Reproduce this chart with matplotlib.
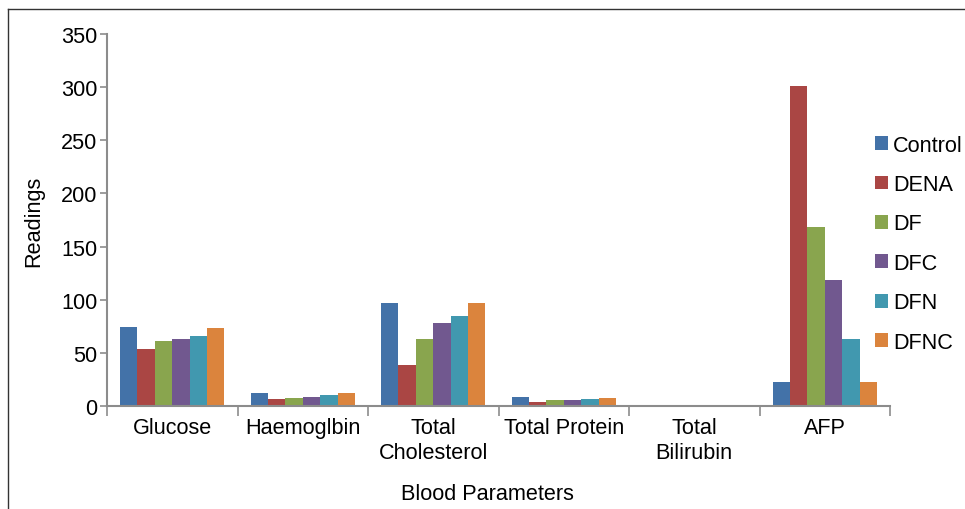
import matplotlib
matplotlib.use("Agg")
import matplotlib.pyplot as plt
from matplotlib.lines import Line2D
from matplotlib.patches import Patch
import numpy as np

plt.rcParams['font.family'] = ['Liberation Sans', 'DejaVu Sans']

categories = ["Glucose", "Haemoglbin", "Total\nCholesterol", "Total Protein", "Total\nBilirubin", "AFP"]
series = ["Control", "DENA", "DF", "DFC", "DFN", "DFNC"]
control = [74.5, 12.2, 96.5, 8.5, 0.6, 22.6]
dena    = [53.6, 6.6, 38.6, 3.8, 1.4, 301.0]
df      = [61.0, 7.5, 63.0, 5.6, 0.5, 168.5]
dfc     = [63.0, 8.5, 78.0, 5.6, 0.5, 118.5]
dfn     = [66.0, 10.3, 84.7, 6.6, 0.5, 63.0]
dfnc    = [73.5, 12.2, 96.5, 7.5, 0.6, 22.6]
values = [control, dena, df, dfc, dfn, dfnc]
colors = ["#4372A8", "#AA4644", "#89A54E", "#71588F", "#4198AF", "#DB843D"]
yticks = [0, 50, 100, 150, 200, 250, 300, 350]

FS = 15.6

fig = plt.figure(figsize=(9.65, 5.10), dpi=100)
ax = fig.add_axes([107/965, 1-407/510, (890-107)/965, (407-35)/510])

n = len(series)
group_w = 0.8
bw = group_w / n
x = np.arange(len(categories))
for i, (name, vals, c) in enumerate(zip(series, values, colors)):
    ax.bar(x - group_w/2 + bw*(i+0.5), vals, width=bw, color=c, label=name, linewidth=0)

ax.set_xlim(-0.5, len(categories)-0.5)
ax.set_ylim(0, 350)
ax.set_yticks(yticks)
ax.set_xticks(x)
ax.set_xticklabels(categories, fontsize=FS, linespacing=1.25)
ax.set_xticks(np.arange(len(categories)+1) - 0.5, minor=True)
ax.tick_params(axis='x', which='major', length=0, pad=8)
ax.tick_params(axis='x', which='minor', length=7, color='#8c8c8c', width=1.2)
ax.tick_params(axis='y', length=5, color='#8c8c8c', width=1.2, labelsize=FS, pad=2)
for s in ['top', 'right']:
    ax.spines[s].set_visible(False)
for s in ['left', 'bottom']:
    ax.spines[s].set_color('#8c8c8c')
    ax.spines[s].set_linewidth(1.5)

ax.set_ylabel("Readings", fontsize=FS, labelpad=12)
fig.text(487/965, 1-495/510, "Blood Parameters", fontsize=FS, ha='center', va='center')

handles = [Patch(facecolor=c, edgecolor='none') for c in colors]
fig.legend(handles, series, loc='upper left', bbox_to_anchor=(866/965, 1-127/510),
           frameon=False, fontsize=FS, handlelength=0.6, handleheight=0.6,
           handletextpad=0.25, labelspacing=0.85, borderaxespad=0)

fig.add_artist(Line2D([8/965, 8/965], [0, 1-10/510], color='#333333', linewidth=1))
fig.add_artist(Line2D([8/965, 1], [1-10/510, 1-10/510], color='#333333', linewidth=1))

fig.savefig("out.png", dpi=100)
